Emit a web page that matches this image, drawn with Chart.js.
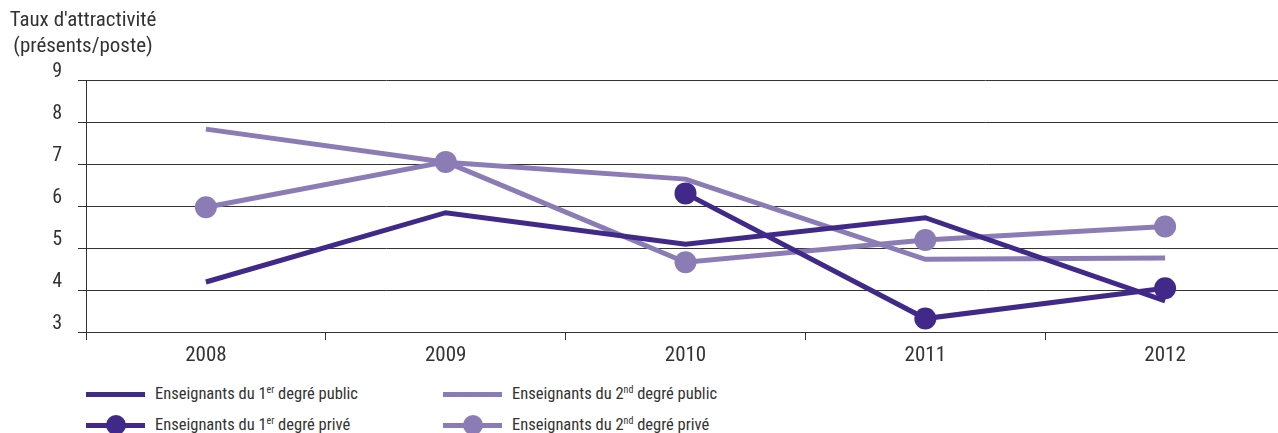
<!DOCTYPE html>
<html>
<head>
<meta charset="utf-8">
<script src="https://cdn.jsdelivr.net/npm/chart.js@4.4.1/dist/chart.umd.min.js"></script>
<style>
html,body{margin:0;padding:0;overflow:hidden;background:#fff;width:1278px;height:433px;}
#wrap{position:relative;width:1278px;height:433px;overflow:hidden;}
#c{position:absolute;left:0;top:0;}
#title{position:absolute;left:0;top:6px;width:166px;text-align:center;font-size:21px;line-height:26px;color:#333;white-space:nowrap;}
.ff{font-family:'Roboto Condensed','Roboto',sans-serif;font-stretch:condensed;}
.lg{position:absolute;height:20px;width:340px;}
.lg .ln{position:absolute;left:0;top:7.5px;width:59px;height:5px;}
.lg .dot{position:absolute;left:19.5px;top:0;width:20px;height:20px;border-radius:50%;}
.lg .tx{position:absolute;left:69px;top:0;line-height:20px;font-size:16.5px;color:#333;white-space:nowrap;}
.lg sup{font-size:10px;line-height:0;vertical-align:6px;}
</style>
</head>
<body>
<div id="wrap">
  <canvas id="c" width="1296" height="380" style="width:1296px;height:380px;"></canvas>
  <div id="title" class="ff"></div>
  <div id="legend"></div>
</div>
<script>
// ---- data ----
const years = ['2008', '2009', '2010', '2011', '2012'];
const yTickValues = [3, 4, 5, 6, 7, 8, 9];
const titleLines = ["Taux d'attractivité", '(présents/poste)'];
const public1 = [4.19, 5.84, 5.09, 5.72, 3.74];
const prive1 = [null, null, 6.30, 3.32, 4.04];
const public2 = [7.83, 7.04, 6.64, 4.73, 4.76];
const prive2 = [5.97, 7.05, 4.66, 5.19, 5.51];
const labelPublic1 = 'Enseignants du 1er degré public';
const labelPrive1 = 'Enseignants du 1er degré privé';
const labelPublic2 = 'Enseignants du 2nd degré public';
const labelPrive2 = 'Enseignants du 2nd degré privé';

const DARK = '#41298a';
const LIGHT = '#8c7cb6';
const FONT = "'Roboto Condensed','Roboto',sans-serif";
const TXT = '#333333';
const GRID = '#333333';

document.getElementById('title').innerHTML = titleLines.join('<br>');

const datasets = [
  {label: labelPrive1, data: prive1, borderColor: DARK, backgroundColor: DARK, pointRadius: 11, marker: true},
  {label: labelPublic1, data: public1, borderColor: DARK, backgroundColor: DARK, pointRadius: 0, marker: false},
  {label: labelPrive2, data: prive2, borderColor: LIGHT, backgroundColor: LIGHT, pointRadius: 11, marker: true},
  {label: labelPublic2, data: public2, borderColor: LIGHT, backgroundColor: LIGHT, pointRadius: 0, marker: false}
].map(d => Object.assign({
  borderWidth: 5,
  pointBorderWidth: 0,
  pointHoverRadius: d.pointRadius,
  pointBackgroundColor: d.backgroundColor,
  tension: 0,
  spanGaps: false,
  fill: false
}, d));

const chart = new Chart(document.getElementById('c'), {
  type: 'line',
  data: {labels: years, datasets},
  options: {
    responsive: false,
    animation: false,
    layout: {padding: {top: 80, left: 0, right: 0, bottom: 3}},
    plugins: {legend: {display: false}, tooltip: {enabled: false}, title: {display: false}},
    scales: {
      x: {
        type: 'category',
        offset: true,
        grid: {display: true, drawOnChartArea: false, drawTicks: true, tickLength: 8, offset: true, color: GRID, lineWidth: 1},
        border: {display: true, color: GRID, width: 1},
        ticks: {color: TXT, font: {family: FONT, size: 21}, padding: 3, maxRotation: 0, autoSkip: false},
        afterFit: s => { s.height = 45; }
      },
      y: {
        min: 3, max: 9,
        afterBuildTicks: s => { s.ticks = yTickValues.map(v => ({value: v})); },
        grid: {color: GRID, lineWidth: 1, tickLength: 8, drawTicks: true},
        border: {display: true, color: GRID, width: 1},
        ticks: {color: TXT, font: {family: FONT, size: 20}, padding: 16, labelOffset: -8},
        afterFit: s => { s.width = 86; }
      }
    }
  }
});

// ---- HTML legend generated from the chart datasets ----
const legendOrder = [labelPublic1, labelPublic2, labelPrive1, labelPrive2];
const colX = [86, 443];
const rowTop = [384, 415];
const lg = document.getElementById('legend');
legendOrder.forEach((lab, i) => {
  const ds = chart.data.datasets.find(d => d.label === lab);
  const el = document.createElement('div');
  el.className = 'lg ff';
  el.style.left = colX[i % 2] + 'px';
  el.style.top = rowTop[Math.floor(i / 2)] + 'px';
  const html = lab.replace(/(\d)(er|nd)/, '$1<sup>$2</sup>');
  el.innerHTML = '<div class="ln" style="background:' + ds.borderColor + '"></div>' +
    (ds.marker ? '<div class="dot" style="background:' + ds.borderColor + '"></div>' : '') +
    '<span class="tx">' + html + '</span>';
  lg.appendChild(el);
});
</script>
</body>
</html>
